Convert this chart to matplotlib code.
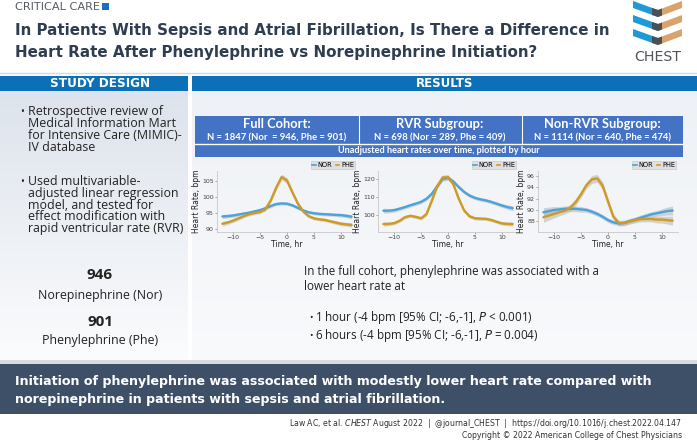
import numpy as np
import matplotlib
matplotlib.use("Agg")
import matplotlib.pyplot as plt
from matplotlib.colors import LinearSegmentedColormap
from matplotlib.patches import Rectangle, Polygon
from matplotlib.lines import Line2D

# ---------------- data ----------------
hours = list(range(-12, 13))

full_nor = [93.9, 94.0, 94.2, 94.5, 94.8, 95.1, 95.5, 95.9, 96.5, 97.2, 97.8, 98.0, 97.9,
            97.4, 96.6, 95.8, 95.2, 94.9, 94.7, 94.6, 94.5, 94.4, 94.3, 94.1, 93.8]
full_phe = [91.6, 92.0, 92.6, 93.3, 94.0, 94.6, 95.0, 95.3, 96.2, 99.0, 103.0, 106.3, 105.2,
            101.5, 98.0, 95.5, 94.0, 93.3, 93.0, 92.8, 92.4, 92.0, 91.6, 91.4, 91.2]
full_nor_ci = [0.7, 0.6, 0.6, 0.5, 0.5, 0.5, 0.5, 0.5, 0.5, 0.5, 0.5, 0.5, 0.5,
               0.5, 0.5, 0.5, 0.5, 0.5, 0.5, 0.5, 0.5, 0.5, 0.6, 0.6, 0.7]
full_phe_ci = [0.7, 0.6, 0.6, 0.6, 0.5, 0.5, 0.5, 0.5, 0.6, 0.7, 0.8, 0.9, 0.9,
               0.8, 0.7, 0.6, 0.5, 0.5, 0.5, 0.5, 0.5, 0.6, 0.6, 0.6, 0.7]

rvr_nor = [102.4, 102.4, 102.7, 103.5, 104.4, 105.4, 106.3, 107.3, 109.0, 111.8, 116.0, 120.0, 120.6,
           118.5, 115.5, 112.8, 110.8, 109.5, 108.7, 108.1, 107.3, 106.3, 105.3, 104.4, 103.8]
rvr_phe = [95.0, 95.1, 95.5, 96.8, 98.8, 99.6, 99.0, 98.2, 100.5, 108.0, 116.0, 120.8, 121.0,
           117.0, 109.0, 102.5, 99.3, 98.2, 98.0, 97.9, 97.3, 96.3, 95.4, 95.1, 95.0]
rvr_nor_ci = [1.4, 1.2, 1.1, 1.0, 1.0, 1.0, 1.0, 1.0, 1.0, 1.1, 1.2, 1.3, 1.3,
              1.2, 1.1, 1.0, 1.0, 1.0, 1.0, 1.0, 1.0, 1.0, 1.1, 1.2, 1.4]
rvr_phe_ci = [1.2, 1.0, 0.9, 0.9, 0.9, 0.9, 0.9, 0.9, 1.0, 1.1, 1.3, 1.4, 1.4,
              1.3, 1.1, 1.0, 0.9, 0.9, 0.9, 0.9, 0.9, 0.9, 1.0, 1.0, 1.2]

non_nor = [89.6, 89.8, 90.0, 90.1, 90.2, 90.2, 90.2, 90.1, 90.0, 89.7, 89.3, 88.8, 88.2,
           87.8, 87.6, 87.7, 88.0, 88.3, 88.6, 88.9, 89.2, 89.4, 89.6, 89.8, 89.9]
non_phe = [88.7, 89.0, 89.3, 89.6, 89.9, 90.4, 91.4, 92.8, 94.4, 95.4, 95.6, 94.3, 91.5,
           88.8, 87.7, 87.7, 88.0, 88.2, 88.4, 88.4, 88.4, 88.3, 88.3, 88.2, 88.1]
non_nor_ci = [0.8, 0.7, 0.6, 0.5, 0.5, 0.5, 0.5, 0.5, 0.4, 0.4, 0.4, 0.4, 0.4,
              0.4, 0.4, 0.4, 0.4, 0.4, 0.5, 0.5, 0.5, 0.5, 0.6, 0.7, 0.8]
non_phe_ci = [0.9, 0.8, 0.7, 0.6, 0.6, 0.6, 0.6, 0.6, 0.6, 0.7, 0.7, 0.7, 0.6,
              0.5, 0.5, 0.5, 0.5, 0.5, 0.5, 0.5, 0.5, 0.6, 0.6, 0.7, 0.8]

panel_titles = ["Full Cohort:", "RVR Subgroup:", "Non-RVR Subgroup:"]
panel_ns = ["N = 1847 (Nor  = 946, Phe = 901)", "N = 698 (Nor = 289, Phe = 409)",
            "N = 1114 (Nor = 640, Phe = 474)"]
panel_yticks = [[90, 95, 100, 105], [100, 110, 120], [88, 90, 92, 94, 96]]
panel_ylims = [(89.0, 108.2), (90.6, 124.4), (86.1, 96.9)]
xticks = [-10, -5, 0, 5, 10]
series_labels = ["NOR", "PHE"]

n_nor, n_phe = 946, 901

# ---------------- figure ----------------
W, H = 697, 443
fig = plt.figure(figsize=(W / 100, H / 100), dpi=100)
bg = fig.add_axes([0, 0, 1, 1])
bg.set_xlim(0, W)
bg.set_ylim(H, 0)
bg.axis("off")
renderer = fig.canvas.get_renderer()


def fit(t, width):
    bb = t.get_window_extent(renderer)
    t.set_fontsize(t.get_fontsize() * width / bb.width)
    return t.get_fontsize()


def rect(x0, y0, x1, y1, color, z=1, **kw):
    bg.add_patch(Rectangle((x0, y0), x1 - x0, y1 - y0, facecolor=color, edgecolor="none", zorder=z, **kw))


def gradient(x0, y0, x1, y1, c_top, c_bot):
    cmap = LinearSegmentedColormap.from_list("g", [c_top, c_bot])
    bg.imshow(np.linspace(0, 1, 200).reshape(-1, 1), cmap=cmap, aspect="auto",
              extent=(x0, x1, y1, y0), origin="upper", zorder=0.5)


# header
bg.plot([0, W], [72.5, 72.5], color="#d6d9de", lw=1, zorder=2)
t = bg.text(15, 6.5, "CRITICAL CARE", fontsize=7, color="#555b63", va="center", ha="left",
            family="DejaVu Sans")
fit(t, 85)
rect(102, 2.5, 109, 9.5, "#1a6fc0", z=2)
title_color = "#2e3d50"
t1 = bg.text(15, 30, "In Patients With Sepsis and Atrial Fibrillation, Is There a Difference in",
             fontsize=11, fontweight="bold", color=title_color, va="center", ha="left",
             family="DejaVu Sans")
fs = fit(t1, 592)
bg.text(15, 52.5, "Heart Rate After Phenylephrine vs Norepinephrine Initiation?",
        fontsize=fs, fontweight="bold", color=title_color, va="center", ha="left",
        family="DejaVu Sans")

# CHEST logo
for k in range(3):
    y0 = 1.0 + 14 * k
    bg.add_patch(Polygon([(633, y0), (658, y0 + 9), (658, y0 + 16), (633, y0 + 7)],
                         closed=True, facecolor="#1f9ad8", edgecolor="none", zorder=3))
    bg.add_patch(Polygon([(682, y0), (658, y0 + 9), (658, y0 + 16), (682, y0 + 7)],
                         closed=True, facecolor="#d9a46c", edgecolor="none", zorder=3))
    bg.add_patch(Polygon([(652, y0 + 7), (658, y0 + 9), (662, y0 + 7.5), (662, y0 + 14.5),
                          (658, y0 + 16), (652, y0 + 14)],
                         closed=True, facecolor="#4a4f57", edgecolor="none", zorder=4))
t = bg.text(657.5, 57, "CHEST", fontsize=11, color="#50555c", ha="center", va="center",
            family="Liberation Sans Narrow")
fit(t, 47)

# left panel
blue_bar = "#0b70b7"
rect(0, 76, 188, 90.5, blue_bar, z=2)
gradient(0, 90.5, 188, 362, "#dde3ec", "#fbfcfd")
t = bg.text(100, 83.5, "STUDY DESIGN", fontsize=8, fontweight="bold", color="white",
            ha="center", va="center", family="DejaVu Sans")
fit(t, 100)

body_font = "Open Sans"
left_lines1 = ["Retrospective review of", "Medical Information Mart",
               "for Intensive Care (MIMIC)-", "IV database"]
left_lines2 = ["Used multivariable-", "adjusted linear regression", "model, and tested for",
               "effect modification with", "rapid ventricular rate (RVR)"]
tt = bg.text(28, 228.3, left_lines2[-1], fontsize=8, color="#222222", ha="left", va="center",
             family=body_font)
lfs = fit(tt, 157)
for i, s in enumerate(left_lines1):
    bg.text(28, 111.7 + 11.8 * i, s, fontsize=lfs, color="#222222", ha="left", va="center",
            family=body_font)
for i, s in enumerate(left_lines2[:-1]):
    bg.text(28, 181.7 + 11.65 * i, s, fontsize=lfs, color="#222222", ha="left", va="center",
            family=body_font)
bg.text(22, 112, "•", fontsize=lfs * 0.8, color="#222222", ha="center", va="center", family=body_font)
bg.text(22, 182, "•", fontsize=lfs * 0.8, color="#222222", ha="center", va="center", family=body_font)

t = bg.text(100, 275, str(n_nor), fontsize=11, fontweight="bold", color="#222222", ha="center",
            va="center", family=body_font)
nfs = fit(t, 26)
bg.text(100, 321.5, str(n_phe), fontsize=nfs, fontweight="bold", color="#222222", ha="center",
        va="center", family=body_font)
bg.text(100, 295.5, "Norepinephrine (Nor)", fontsize=lfs, color="#222222", ha="center",
        va="center", family=body_font)
bg.text(100, 340.5, "Phenylephrine (Phe)", fontsize=lfs, color="#222222", ha="center",
        va="center", family=body_font)

# results panel
rect(192, 76, W, 90.5, blue_bar, z=2)
gradient(192, 90.5, W, 362, "#eef1f5", "#f9fafc")
t = bg.text(444.5, 83.5, "RESULTS", fontsize=8, fontweight="bold", color="white",
            ha="center", va="center", family="DejaVu Sans")
fit(t, 57)

# table
tbl_blue = "#4472c4"
tx = [195, 358.5, 521.5, 683]
rect(tx[0], 116, tx[3], 157, tbl_blue, z=2)
bg.plot([tx[0], tx[3]], [144, 144], color="white", lw=1.0, zorder=3)
for xx in tx[1:3]:
    bg.plot([xx, xx], [116, 144], color="white", lw=0.8, zorder=3)
tf = "Lato"
for i in range(3):
    cx = (tx[i] + tx[i + 1]) / 2
    t = bg.text(cx, 124, panel_titles[i], fontsize=10, fontweight="bold", color="white",
                ha="center", va="center", family=tf, zorder=4)
    if i == 0:
        hfs = fit(t, 68)
    else:
        t.set_fontsize(hfs)
    t = bg.text(cx, 137.5, panel_ns[i], fontsize=6, fontweight="bold", color="white",
                ha="center", va="center", family=tf, zorder=4)
    if i == 0:
        sfs = fit(t, 140)
    else:
        t.set_fontsize(sfs)
t = bg.text((tx[0] + tx[3]) / 2, 150.5, "Unadjusted heart rates over time, plotted by hour",
            fontsize=6, fontweight="bold", color="white", ha="center", va="center", family=tf,
            zorder=4)
fit(t, 203)

# mini charts
nor_c = "#4aa3da"
phe_c = "#cf9a1f"
band_c = "#b4b4b4"
series = [(full_nor, full_nor_ci, full_phe, full_phe_ci),
          (rvr_nor, rvr_nor_ci, rvr_phe, rvr_phe_ci),
          (non_nor, non_nor_ci, non_phe, non_phe_ci)]
ax_left = [217, 378, 538]
ax_w = 140
ax_top, ax_bot = 171, 232
for i in range(3):
    ax = fig.add_axes([ax_left[i] / W, 1 - ax_bot / H, ax_w / W, (ax_bot - ax_top) / H])
    ax.patch.set_alpha(0)
    nor, nor_ci, phe, phe_ci = series[i]
    h = np.array(hours)
    for vals, ci, col in [(nor, nor_ci, nor_c), (phe, phe_ci, phe_c)]:
        v = np.array(vals)
        c = np.array(ci)
        ax.fill_between(h, v - c, v + c, color=band_c, alpha=0.55, lw=0, zorder=1)
    ax.plot(h, nor, color=nor_c, lw=1.7, zorder=3, solid_capstyle="round", solid_joinstyle="round")
    ax.plot(h, phe, color=phe_c, lw=1.7, zorder=4, solid_capstyle="round", solid_joinstyle="round")
    ax.set_xlim(-13, 13)
    ax.set_ylim(*panel_ylims[i])
    ax.set_xticks(xticks)
    ax.set_yticks(panel_yticks[i])
    ax.tick_params(labelsize=4.5, length=1.2, width=0.4, pad=1.0, colors="#666666",
                   labelcolor="#444444")
    for sp in ["top", "right"]:
        ax.spines[sp].set_visible(False)
    for sp in ["left", "bottom"]:
        ax.spines[sp].set_color("#c8c8c8")
        ax.spines[sp].set_linewidth(0.6)
    ax.set_xlabel("Time, hr", fontsize=5.5, labelpad=0.0, color="#222222")
    ax.set_ylabel("Heart Rate, bpm", fontsize=5.5, labelpad=1.0, color="#222222")
    handles = [Line2D([], [], color=nor_c, lw=1.2), Line2D([], [], color=phe_c, lw=1.2)]
    leg = ax.legend(handles, series_labels, loc="lower right", bbox_to_anchor=(1.0, 1.0),
                    ncol=2, fontsize=4.8, handlelength=0.5, handletextpad=0.3,
                    columnspacing=0.5, borderpad=0.15, borderaxespad=0.3, frameon=True,
                    fancybox=False)
    leg.get_frame().set_facecolor("#dcdcdc")
    leg.get_frame().set_edgecolor("#b8b8b8")
    leg.get_frame().set_linewidth(0.4)

# results text
t = bg.text(304, 272, "In the full cohort, phenylephrine was associated with a", fontsize=8,
            color="#222222", ha="left", va="center", family=body_font)
rfs = fit(t, 298)
bg.text(304, 287, "lower heart rate at", fontsize=rfs, color="#222222", ha="left", va="center",
        family=body_font)
bg.text(311, 318, "•", fontsize=rfs * 0.8, color="#222222", ha="center", va="center",
        family=body_font)
bg.text(311, 335, "•", fontsize=rfs * 0.8, color="#222222", ha="center", va="center",
        family=body_font)
bg.text(315, 318, "1 hour (-4 bpm [95% CI; -6,-1], $\\mathit{P}$ < 0.001)", fontsize=rfs,
        color="#222222", ha="left", va="center", family=body_font)
bg.text(315, 335, "6 hours (-4 bpm [95% CI; -6,-1], $\\mathit{P}$ = 0.004)", fontsize=rfs,
        color="#222222", ha="left", va="center", family=body_font)

# bottom banner
rect(0, 360, W, 364, "#d9dbde", z=2)
rect(0, 364, W, 414, "#3e5068", z=2)
t = bg.text(15, 381.5, "Initiation of phenylephrine was associated with modestly lower heart rate compared with",
            fontsize=9, fontweight="bold", color="white", ha="left", va="center",
            family="DejaVu Sans", zorder=3)
bfs = fit(t, 636)
bg.text(15, 399.5, "norepinephrine in patients with sepsis and atrial fibrillation.", fontsize=bfs,
        fontweight="bold", color="white", ha="left", va="center", family="DejaVu Sans", zorder=3)

t = bg.text(682, 423.5,
            "Law AC, et al. $\\mathit{CHEST}$ August 2022  |  @journal_CHEST  |  https://doi.org/10.1016/j.chest.2022.04.147",
            fontsize=6, color="#333333", ha="right", va="center", family="DejaVu Sans")
cfs = fit(t, 395)
bg.text(682, 436, "Copyright © 2022 American College of Chest Physicians", fontsize=cfs,
        color="#333333", ha="right", va="center", family="DejaVu Sans")

fig.savefig("out.png", dpi=100)
